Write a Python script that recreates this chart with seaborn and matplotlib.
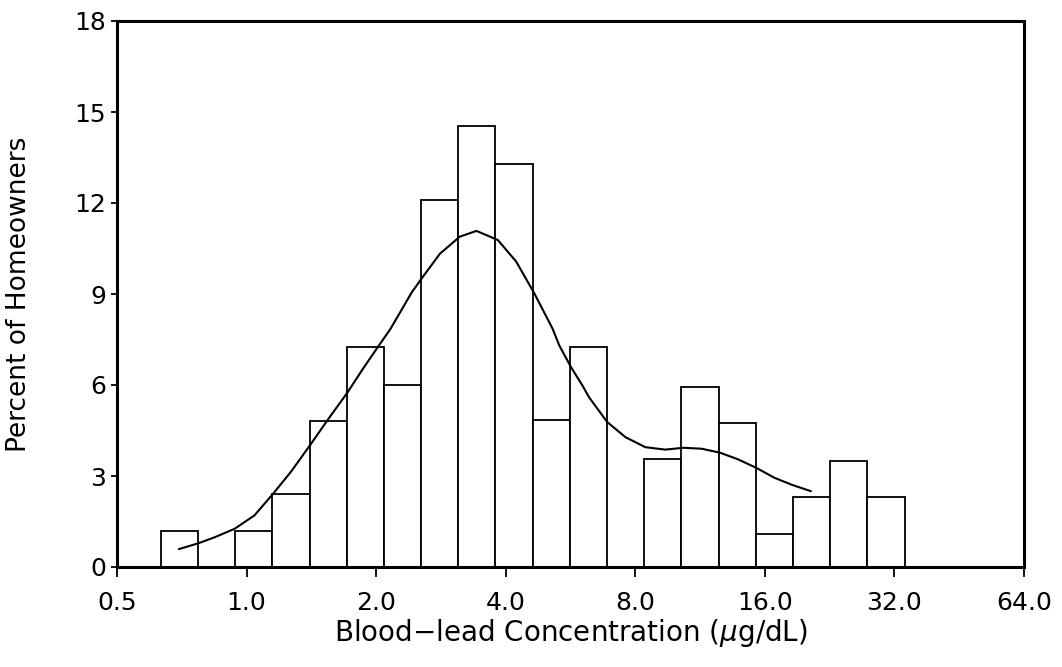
import numpy as np
import pandas as pd
import matplotlib
matplotlib.use("Agg")
import matplotlib.pyplot as plt
import seaborn as sns

# Percent of homeowners in each log-spaced blood-lead bin (20 bins)
pct = [1.2, 0.0, 1.2, 2.4, 4.8, 7.25, 6.0, 12.1, 14.55, 13.3,
       4.85, 7.25, 0.0, 3.55, 5.95, 4.75, 1.1, 2.3, 3.5, 2.3]
bin_lo = 0.632          # lower edge of the first bin, ug/dL
bin_step = 0.287        # bin width in log2 units

# Smoothed distribution curve (ug/dL, percent)
curve_x = [0.696, 0.772, 0.843, 0.938, 1.043, 1.150, 1.268, 1.410, 1.554,
           1.713, 1.871, 2.027, 2.157, 2.275, 2.421, 2.566, 2.814, 3.129,
           3.420, 3.835, 4.230, 4.662, 5.138, 5.325, 5.666, 6.026, 6.244,
           6.883, 7.590, 8.442, 9.389, 10.347, 11.405, 12.576, 13.861,
           15.276, 16.847, 18.567, 20.467]
curve_y = [0.59, 0.78, 0.98, 1.26, 1.70, 2.40, 3.14, 4.05, 4.91,
           5.74, 6.57, 7.29, 7.84, 8.40, 9.06, 9.56, 10.33, 10.89,
           11.08, 10.78, 10.07, 9.02, 7.86, 7.31, 6.60, 5.99, 5.60,
           4.78, 4.28, 3.95, 3.87, 3.93, 3.90, 3.77, 3.55,
           3.27, 2.94, 2.70, 2.50]

xticks = [0.5, 1.0, 2.0, 4.0, 8.0, 16.0, 32.0, 64.0]
yticks = [0, 3, 6, 9, 12, 15, 18]

sns.set_theme(style="ticks")
plt.rcParams["font.family"] = ["DejaVu Sans"]
plt.rcParams["text.color"] = "black"
plt.rcParams["axes.labelcolor"] = "black"

n_bins = len(pct)
edges = bin_lo * 2.0 ** (bin_step * np.arange(n_bins + 1))
centers = np.sqrt(edges[:-1] * edges[1:])
bars = pd.DataFrame({"lead": centers, "percent": pct})
curve = pd.DataFrame({"lead": curve_x, "percent": curve_y})

fig = plt.figure(figsize=(10.62, 6.67), dpi=100)
ax = fig.add_axes([117 / 1062, 100 / 667, 907 / 1062, 546 / 667])

# seaborn bins a log-scaled axis in log10 units
sns.histplot(data=bars, x="lead", weights="percent", log_scale=True,
             binwidth=bin_step * np.log10(2),
             binrange=(np.log10(edges[0]), np.log10(edges[-1])),
             stat="count", fill=True, color="white", edgecolor="black",
             linewidth=1.3, alpha=1.0, ax=ax)
sns.lineplot(data=curve, x="lead", y="percent", color="black",
             linewidth=1.5, ax=ax)

ax.set_xscale("log", base=2)
ax.set_xlim(0.5, 64)
ax.set_ylim(0, 18)
ax.set_xticks(xticks)
ax.set_xticklabels([f"{t:.1f}" for t in xticks])
ax.minorticks_off()
ax.set_yticks(yticks)
ax.set_yticklabels([str(t) for t in yticks])

for side in ["left", "right", "top", "bottom"]:
    ax.spines[side].set_visible(True)
    ax.spines[side].set_linewidth(2.2)
    ax.spines[side].set_color("black")

ax.tick_params(axis="x", direction="out", length=7, width=1.3,
               labelsize=18, pad=10, colors="black")
ax.tick_params(axis="y", direction="out", length=4, width=1.3,
               labelsize=18, pad=4, colors="black")

ax.set_xlabel(r"Blood$-$lead Concentration ($\mu$g/dL)", fontsize=20,
              labelpad=2)
ax.set_ylabel("Percent of Homeowners", fontsize=19, labelpad=30)
ax.set_facecolor("white")
fig.patch.set_facecolor("white")

fig.savefig("out.png", dpi=100, facecolor="white")
